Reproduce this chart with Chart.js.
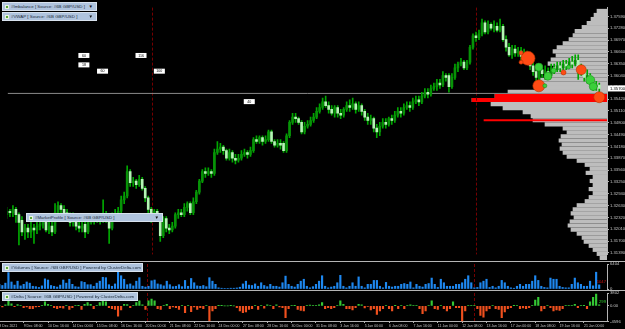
<!DOCTYPE html>
<html>
<head>
<meta charset="utf-8">
<title>#6B GBP/USD H4</title>
<script src="https://cdn.jsdelivr.net/npm/chart.js@4.4.1/dist/chart.umd.min.js"></script>
<style>
  html, body { margin: 0; padding: 0; background: #000; }
  #wrap { position: relative; width: 625px; height: 329px; overflow: hidden; background: #000; }
  canvas { position: absolute; left: 0; }
  .sep { position: absolute; left: 0; width: 625px; height: 1px; background: #b4b4b4; }
  .hdr { position: absolute; height: 9px; box-sizing: border-box; background: #b0c4de; border: 1px solid #d8e2ee;
         color: #1b2a3a; font: 4.4px "Liberation Sans", Arial, sans-serif; line-height: 7px; padding-left: 8px; white-space: nowrap; }
  .hdr .ico { position: absolute; left: 2px; top: 1.5px; width: 4px; height: 4px; background: #5aa83a; border: 0.5px solid #e8f5e0; box-sizing: border-box; }
  .hdr .arr { position: absolute; right: 3px; top: 0; font-size: 4.5px; color: #111; }
</style>
</head>
<body>
<div id="wrap">
  <canvas id="profile" width="607" height="262" style="top:0"></canvas>
  <canvas id="main" width="625" height="262" style="top:0"></canvas>
  <canvas id="volume" width="625" height="28" style="top:262px"></canvas>
  <canvas id="delta" width="625" height="38" style="top:291px"></canvas>
  <div class="sep" style="top:261px"></div>
  <div class="sep" style="top:290px"></div>
  <div class="hdr" style="left:2px;top:2px;width:95px"><span class="ico"></span>#Imbalance [ Source: #6B GBP/USD ]<span class="arr">▼</span></div>
  <div class="hdr" style="left:2px;top:12px;width:95px"><span class="ico"></span>#VWAP [ Source: #6B GBP/USD ]<span class="arr">▼</span></div>
  <div class="hdr" style="left:26px;top:213px;width:137px"><span class="ico"></span>#MarketProfile [ Source: #6B GBP/USD ]<span class="arr">▼</span></div>
  <div class="hdr" style="left:2px;top:263px;width:141px"><span class="ico"></span>#Volumes [ Source: #6B GBP/USD ] Powered by ClusterDelta.com</div>
  <div class="hdr" style="left:2px;top:292px;width:136px"><span class="ico"></span>#Delta [ Source: #6B GBP/USD ] Powered by ClusterDelta.com</div>
</div>
<script>
// H4 bars, 8 Dec 2021 .. 21 Jan 2022
const opens = [
  1.3239, 1.3248, 1.3244, 1.3253, 1.3239, 1.3224, 1.3194, 1.3204, 1.3194, 1.3204,
  1.3199, 1.3209, 1.3214, 1.3219, 1.3199, 1.3209, 1.3194, 1.3244, 1.3263, 1.3253,
  1.3244, 1.3234, 1.3219, 1.3234, 1.3209, 1.3204, 1.3214, 1.3194, 1.3219, 1.3229,
  1.3224, 1.3229, 1.3224, 1.3234, 1.3234, 1.3204, 1.3234, 1.3239, 1.3248, 1.3278,
  1.3288, 1.3352, 1.3323, 1.3327, 1.3318, 1.3332, 1.3308, 1.3283, 1.3253, 1.3229,
  1.3248, 1.3234, 1.3184, 1.3229, 1.3204, 1.3199, 1.3209, 1.3239, 1.3244, 1.3239,
  1.3258, 1.3268, 1.3244, 1.3273, 1.3298, 1.3327, 1.3352, 1.3347, 1.3352, 1.3347,
  1.3402, 1.3411, 1.3416, 1.3407, 1.3387, 1.3402, 1.3387, 1.3382, 1.3387, 1.3397,
  1.3402, 1.3397, 1.3407, 1.3436, 1.3431, 1.3441, 1.3431, 1.3436, 1.3456, 1.3431,
  1.3421, 1.3426, 1.3426, 1.3407, 1.3446, 1.3481, 1.3495, 1.3491, 1.3481, 1.3456,
  1.3471, 1.3476, 1.3486, 1.3495, 1.3510, 1.3520, 1.3535, 1.3525, 1.3515, 1.3505,
  1.3520, 1.3505, 1.3500, 1.3515, 1.3525, 1.3520, 1.3530, 1.3515, 1.3525, 1.3510,
  1.3495, 1.3486, 1.3491, 1.3466, 1.3456, 1.3471, 1.3481, 1.3476, 1.3491, 1.3486,
  1.3500, 1.3510, 1.3505, 1.3520, 1.3525, 1.3520, 1.3535, 1.3540, 1.3535, 1.3550,
  1.3560, 1.3555, 1.3570, 1.3575, 1.3584, 1.3579, 1.3604, 1.3604, 1.3575, 1.3599,
  1.3624, 1.3634, 1.3639, 1.3624, 1.3639, 1.3678, 1.3708, 1.3703, 1.3713, 1.3742,
  1.3718, 1.3738, 1.3728, 1.3733, 1.3723, 1.3733, 1.3698, 1.3678, 1.3658, 1.3673,
  1.3663, 1.3668, 1.3654, 1.3663, 1.3644, 1.3629, 1.3614, 1.3594, 1.3619, 1.3609,
  1.3614, 1.3604, 1.3624, 1.3619, 1.3629, 1.3624, 1.3634, 1.3629, 1.3639, 1.3634,
  1.3644, 1.3624, 1.3614, 1.3599, 1.3604, 1.3584, 1.3575, 1.3579
];
const highs = [
  1.3258, 1.3253, 1.3263, 1.3258, 1.3244, 1.3234, 1.3214, 1.3214, 1.3219, 1.3214,
  1.3219, 1.3224, 1.3229, 1.3229, 1.3219, 1.3219, 1.3268, 1.3273, 1.3268, 1.3263,
  1.3253, 1.3244, 1.3244, 1.3239, 1.3219, 1.3219, 1.3224, 1.3229, 1.3234, 1.3234,
  1.3239, 1.3239, 1.3278, 1.3248, 1.3239, 1.3244, 1.3253, 1.3258, 1.3288, 1.3298,
  1.3367, 1.3357, 1.3337, 1.3332, 1.3342, 1.3337, 1.3313, 1.3288, 1.3258, 1.3253,
  1.3253, 1.3239, 1.3234, 1.3234, 1.3214, 1.3219, 1.3244, 1.3253, 1.3253, 1.3268,
  1.3273, 1.3273, 1.3283, 1.3303, 1.3332, 1.3357, 1.3362, 1.3362, 1.3357, 1.3411,
  1.3431, 1.3426, 1.3421, 1.3411, 1.3411, 1.3407, 1.3397, 1.3397, 1.3407, 1.3411,
  1.3407, 1.3416, 1.3441, 1.3446, 1.3446, 1.3446, 1.3446, 1.3461, 1.3461, 1.3436,
  1.3436, 1.3436, 1.3431, 1.3451, 1.3486, 1.3505, 1.3505, 1.3495, 1.3486, 1.3481,
  1.3486, 1.3495, 1.3505, 1.3520, 1.3530, 1.3545, 1.3550, 1.3535, 1.3525, 1.3525,
  1.3525, 1.3515, 1.3520, 1.3535, 1.3540, 1.3545, 1.3535, 1.3535, 1.3530, 1.3515,
  1.3505, 1.3500, 1.3495, 1.3476, 1.3481, 1.3491, 1.3491, 1.3495, 1.3500, 1.3510,
  1.3520, 1.3520, 1.3530, 1.3535, 1.3535, 1.3545, 1.3550, 1.3550, 1.3560, 1.3570,
  1.3570, 1.3579, 1.3584, 1.3594, 1.3594, 1.3614, 1.3609, 1.3609, 1.3609, 1.3634,
  1.3639, 1.3649, 1.3644, 1.3644, 1.3683, 1.3713, 1.3718, 1.3723, 1.3752, 1.3747,
  1.3747, 1.3742, 1.3747, 1.3742, 1.3752, 1.3738, 1.3708, 1.3688, 1.3683, 1.3683,
  1.3678, 1.3678, 1.3673, 1.3668, 1.3654, 1.3639, 1.3624, 1.3629, 1.3629, 1.3629,
  1.3624, 1.3634, 1.3634, 1.3639, 1.3639, 1.3644, 1.3644, 1.3649, 1.3654, 1.3658,
  1.3658, 1.3634, 1.3624, 1.3619, 1.3609, 1.3594, 1.3589, 1.3584
];
const lows = [
  1.3229, 1.3234, 1.3234, 1.3219, 1.3160, 1.3184, 1.3174, 1.3179, 1.3179, 1.3164,
  1.3189, 1.3199, 1.3204, 1.3194, 1.3189, 1.3184, 1.3189, 1.3239, 1.3244, 1.3234,
  1.3224, 1.3209, 1.3209, 1.3199, 1.3194, 1.3194, 1.3179, 1.3189, 1.3214, 1.3214,
  1.3219, 1.3214, 1.3219, 1.3219, 1.3164, 1.3199, 1.3224, 1.3229, 1.3244, 1.3268,
  1.3283, 1.3313, 1.3313, 1.3308, 1.3313, 1.3303, 1.3273, 1.3244, 1.3219, 1.3224,
  1.3224, 1.3169, 1.3179, 1.3194, 1.3189, 1.3194, 1.3204, 1.3229, 1.3234, 1.3234,
  1.3248, 1.3239, 1.3239, 1.3268, 1.3293, 1.3323, 1.3337, 1.3342, 1.3337, 1.3342,
  1.3397, 1.3402, 1.3397, 1.3382, 1.3382, 1.3377, 1.3372, 1.3377, 1.3382, 1.3392,
  1.3387, 1.3392, 1.3402, 1.3426, 1.3426, 1.3421, 1.3426, 1.3431, 1.3426, 1.3416,
  1.3416, 1.3411, 1.3402, 1.3402, 1.3441, 1.3476, 1.3481, 1.3476, 1.3451, 1.3451,
  1.3466, 1.3471, 1.3481, 1.3491, 1.3505, 1.3515, 1.3520, 1.3505, 1.3500, 1.3495,
  1.3495, 1.3491, 1.3495, 1.3510, 1.3510, 1.3515, 1.3505, 1.3510, 1.3500, 1.3486,
  1.3476, 1.3476, 1.3456, 1.3441, 1.3446, 1.3466, 1.3466, 1.3471, 1.3476, 1.3481,
  1.3495, 1.3495, 1.3500, 1.3515, 1.3510, 1.3515, 1.3530, 1.3525, 1.3530, 1.3545,
  1.3545, 1.3550, 1.3565, 1.3565, 1.3570, 1.3575, 1.3589, 1.3560, 1.3570, 1.3594,
  1.3614, 1.3629, 1.3619, 1.3619, 1.3634, 1.3673, 1.3693, 1.3698, 1.3708, 1.3713,
  1.3713, 1.3723, 1.3718, 1.3718, 1.3718, 1.3693, 1.3668, 1.3654, 1.3649, 1.3654,
  1.3654, 1.3644, 1.3644, 1.3634, 1.3619, 1.3604, 1.3589, 1.3589, 1.3599, 1.3594,
  1.3594, 1.3599, 1.3609, 1.3614, 1.3614, 1.3619, 1.3619, 1.3624, 1.3624, 1.3629,
  1.3594, 1.3604, 1.3589, 1.3584, 1.3579, 1.3565, 1.3565, 1.3555
];
const closes = [
  1.3248, 1.3244, 1.3253, 1.3239, 1.3219, 1.3194, 1.3204, 1.3194, 1.3204, 1.3199,
  1.3209, 1.3214, 1.3219, 1.3199, 1.3209, 1.3194, 1.3244, 1.3263, 1.3253, 1.3244,
  1.3234, 1.3219, 1.3234, 1.3209, 1.3204, 1.3209, 1.3194, 1.3219, 1.3229, 1.3224,
  1.3229, 1.3224, 1.3234, 1.3229, 1.3204, 1.3234, 1.3239, 1.3248, 1.3278, 1.3288,
  1.3352, 1.3323, 1.3327, 1.3318, 1.3332, 1.3308, 1.3283, 1.3253, 1.3229, 1.3248,
  1.3234, 1.3184, 1.3229, 1.3204, 1.3199, 1.3209, 1.3239, 1.3244, 1.3239, 1.3258,
  1.3268, 1.3244, 1.3273, 1.3298, 1.3327, 1.3352, 1.3347, 1.3352, 1.3347, 1.3402,
  1.3411, 1.3416, 1.3407, 1.3387, 1.3402, 1.3387, 1.3382, 1.3387, 1.3397, 1.3402,
  1.3397, 1.3407, 1.3436, 1.3431, 1.3441, 1.3431, 1.3436, 1.3456, 1.3431, 1.3421,
  1.3426, 1.3421, 1.3407, 1.3446, 1.3481, 1.3495, 1.3491, 1.3481, 1.3456, 1.3471,
  1.3476, 1.3486, 1.3495, 1.3510, 1.3520, 1.3535, 1.3525, 1.3515, 1.3505, 1.3520,
  1.3505, 1.3500, 1.3515, 1.3525, 1.3520, 1.3530, 1.3515, 1.3525, 1.3510, 1.3495,
  1.3486, 1.3491, 1.3466, 1.3456, 1.3471, 1.3481, 1.3476, 1.3491, 1.3486, 1.3500,
  1.3510, 1.3505, 1.3520, 1.3525, 1.3520, 1.3535, 1.3540, 1.3535, 1.3550, 1.3560,
  1.3555, 1.3570, 1.3575, 1.3584, 1.3579, 1.3604, 1.3599, 1.3575, 1.3599, 1.3624,
  1.3634, 1.3639, 1.3624, 1.3639, 1.3678, 1.3708, 1.3703, 1.3713, 1.3742, 1.3718,
  1.3738, 1.3728, 1.3733, 1.3723, 1.3733, 1.3698, 1.3678, 1.3658, 1.3673, 1.3663,
  1.3668, 1.3654, 1.3663, 1.3644, 1.3629, 1.3614, 1.3599, 1.3619, 1.3609, 1.3614,
  1.3604, 1.3624, 1.3619, 1.3629, 1.3624, 1.3634, 1.3629, 1.3639, 1.3634, 1.3644,
  1.3624, 1.3614, 1.3599, 1.3604, 1.3584, 1.3575, 1.3579, 1.3570
];

// #Volumes per bar
const volumes = [
  1200, 900, 1500, 4200, 1800, 1000, 2000, 800, 1200, 1800,
  1500, 700, 600, 400, 800, 2600, 2300, 900, 700, 500,
  1000, 2300, 1500, 2500, 1200, 600, 500, 1900, 1700, 1100,
  1100, 700, 1500, 2000, 3000, 2900, 1100, 700, 1300, 5000,
  3400, 2500, 1100, 1300, 800, 2000, 2900, 700, 500, 700,
  2100, 2300, 1300, 1100, 800, 2000, 1100, 600, 700, 1100,
  600, 2200, 700, 2700, 1600, 800, 700, 900, 600, 2900,
  2000, 1200, 300, 200, 150, 150, 200, 200, 270, 450,
  1300, 2000, 1000, 900, 1300, 700, 1600, 900, 600, 1200,
  700, 700, 500, 1600, 3300, 1200, 700, 500, 1200, 2000,
  2500, 700, 300, 600, 1200, 2000, 3400, 700, 300, 500,
  700, 1600, 3500, 700, 300, 700, 1600, 700, 3100, 700,
  300, 1200, 1200, 2200, 2200, 700, 300, 1700, 700, 500,
  700, 700, 1200, 1400, 1200, 1800, 300, 1200, 700, 500,
  1200, 1400, 2800, 1200, 400, 2500, 1600, 700, 700, 700,
  1200, 1200, 1600, 2500, 3400, 1600, 300, 400, 1600, 2000,
  2500, 400, 700, 300, 700, 2200, 1600, 700, 300, 200,
  700, 1200, 700, 1200, 1200, 2000, 3400, 2200, 700, 400,
  300, 2800, 2500, 2500, 700, 400, 300, 300, 1200, 2800,
  1600, 1200, 700, 700, 2000, 800, 4300, 1047
];

// #Delta per bar
const deltas = [
  200, -300, 300, 1500, 600, -200, 400, 200, -500, -300,
  -800, -800, -300, -200, 150, 1200, 500, 200, -500, -800,
  -500, -700, 200, -1000, -500, 150, 100, -1000, 500, 1000,
  500, -800, 200, 1000, 1500, 1200, -500, -800, -1000, -3000,
  -1200, 500, 400, -500, 200, 1000, 1500, 300, -1000, 1500,
  2000, 1500, -800, -1000, 200, 500, -800, -300, -500, -1000,
  200, -2000, 150, -1700, -300, -1000, -500, -800, 200, -4400,
  -1500, -800, 100, 50, 0, 0, 50, 0, -500, -1500,
  -2000, -1800, -1000, -800, 200, -1000, 200, -700, 300, 200,
  -800, 300, -300, -500, -3500, -800, 200, 100, -1000, -1300,
  -1500, 200, 250, 200, 200, 300, 1000, -800, -500, -800,
  -500, 200, 1500, 500, -800, -800, -1200, -500, 500, 300,
  -600, -100, -1200, -800, -2500, -1500, -800, 200, -800, -1500,
  100, -800, 200, -800, 200, 300, 200, 200, -800, -2300,
  -1500, 150, 1500, -800, -1000, 200, -800, -1500, -800, 1200,
  -500, -500, -4500, -1500, 200, 200, 150, -800, -2800, -3300,
  -1500, -800, 200, -800, -1000, -3500, -1800, -800, -500, 100,
  200, -800, -600, -800, -500, 200, 1700, 2500, -1500, -800,
  150, -500, -1500, -1200, -1300, -800, 200, 200, 200, 500,
  -500, 200, 100, -800, 1200, 2500, 3500, 299
];

// #MarketProfile rows (price level, volume)
const profilePrices = [
  1.3755, 1.3745, 1.3735, 1.3725, 1.3715, 1.3705, 1.3695, 1.3685, 1.3675, 1.3665,
  1.3655, 1.3645, 1.3635, 1.3625, 1.3615, 1.3605, 1.3595, 1.3585, 1.3575, 1.3565,
  1.3555, 1.3545, 1.3535, 1.3525, 1.3515, 1.3505, 1.3495, 1.3485, 1.3475, 1.3465,
  1.3455, 1.3445, 1.3435, 1.3425, 1.3415, 1.3405, 1.3395, 1.3385, 1.3375, 1.3365,
  1.3355, 1.3345, 1.3335, 1.3325, 1.3315, 1.3305, 1.3295, 1.3285, 1.3275, 1.3265,
  1.3255, 1.3245, 1.3235, 1.3225, 1.3215, 1.3205, 1.3195, 1.3185, 1.3175, 1.3165,
  1.3155, 1.3145
];
const profileVolumes = [
  10, 13, 16, 20, 25, 32, 34, 38, 44, 50,
  54, 51, 56, 59, 53, 56, 62, 67, 65, 70,
  99, 112, 135, 116, 104, 84, 76, 74, 62, 44,
  40, 46, 48, 45, 47, 44, 40, 30, 22, 17,
  21, 14, 17, 14, 18, 14, 18, 22, 30, 34,
  36, 33, 37, 39, 36, 30, 25, 23, 18, 14,
  10, 7
];
const pocPrices = [1.3545, 1.3535];
const pocVolumes = [112, 135];
const prevPocPrices = [1.3485];
const prevPocVolumes = [123];

// cluster bubbles (#Imbalance)
const bubbleBars = [173.3, 171, 171, 176.9, 179.9, 176.9, 178.9, 181.8, 185.1, 186.8, 191, 194, 195, 197];
const bubblePrices = [1.3649, 1.3663, 1.3639, 1.3626, 1.3602, 1.3577, 1.3577, 1.3617, 1.3612, 1.3626, 1.3619, 1.3592, 1.3575, 1.3547];
const bubbleSizes = [7, 2, 2, 4, 4, 6, 2, 2.5, 2.5, 2, 5, 4.5, 4, 5.5];
const bubbleSides = ['sell', 'sell', 'sell', 'buy', 'buy', 'sell', 'buy', 'buy', 'sell', 'buy', 'sell', 'buy', 'buy', 'sell'];

// count labels
const countBars = [25.6, 44.6, 25.6, 31.8, 50.7, 80.6];
const countPrices = [1.36565, 1.36565, 1.36318, 1.36153, 1.36153, 1.35355];
const countTexts = ['60', '116', '18', '60', '100', '40'];

const levelPrice = 1.3557;
const sessionBars = [48.4, 156];

// axes
const priceTicks = [1.37590, 1.37280, 1.36970, 1.36660, 1.36350, 1.36040, 1.35730, 1.35420, 1.35110, 1.34800,
  1.34490, 1.34180, 1.33870, 1.33560, 1.33250, 1.32940, 1.32630, 1.32320, 1.32010, 1.31700, 1.31390];
const volumeTicks = [0, 6404];
const deltaTicks = [-4596, 0, 3802];
const timeTickBars = [0, 8, 16, 24, 32, 40, 48, 56, 64, 72, 80, 88, 96, 104, 112, 120, 128, 136, 144, 152, 160, 168, 176, 184, 192];
const timeLabels = ['8 Dec 2021', '9 Dec 08:00', '10 Dec 16:00', '14 Dec 00:00', '15 Dec 08:00', '16 Dec 16:00',
  '20 Dec 00:00', '21 Dec 08:00', '22 Dec 16:00', '24 Dec 00:00', '27 Dec 08:00', '28 Dec 16:00', '30 Dec 00:00',
  '31 Dec 08:00', '3 Jan 16:00', '5 Jan 00:00', '6 Jan 08:00', '7 Jan 16:00', '11 Jan 00:00', '12 Jan 08:00',
  '13 Jan 16:00', '17 Jan 00:00', '18 Jan 08:00', '19 Jan 16:00', '21 Jan 00:00'];

const X_MIN = 0.23, X_MAX = 199.57;
const Y_MAX = 1.3782, Y_MIN = 1.31349;
const AXIS_W = 18;
const FONT = '"Liberation Sans", Arial, sans-serif';
const AXIS_COLOR = '#b4b4b4';
const TEXT_COLOR = '#c4c4c4';

Chart.defaults.font.family = FONT;
Chart.defaults.animation = false;

function fixRightAxis(s) {
  s.width = AXIS_W;
  s.paddingTop = 0;
  s.paddingBottom = 0;
}

const sessionLines = {
  id: 'sessionLines',
  beforeDatasetsDraw(chart) {
    const {ctx, chartArea, scales} = chart;
    ctx.save();
    ctx.strokeStyle = '#760000';
    ctx.lineWidth = 1;
    ctx.setLineDash([3, 2]);
    sessionBars.forEach(b => {
      const x = Math.round(scales.x.getPixelForValue(b)) + 0.5;
      ctx.beginPath();
      ctx.moveTo(x, chartArea.top);
      ctx.lineTo(x, chartArea.bottom);
      ctx.stroke();
    });
    ctx.restore();
  }
};

const priceBox = {
  id: 'priceBox',
  afterDraw(chart) {
    const {ctx, chartArea, scales} = chart;
    const last = closes[closes.length - 1];
    const y = scales.y.getPixelForValue(last);
    ctx.save();
    ctx.fillStyle = '#ffffff';
    ctx.fillRect(chartArea.right + 1, y - 3, 17, 6);
    ctx.fillStyle = '#000000';
    ctx.font = '4.2px ' + FONT;
    ctx.textBaseline = 'middle';
    ctx.textAlign = 'left';
    ctx.fillText(last.toFixed(5), chartArea.right + 3, y + 0.3);
    ctx.restore();
  }
};

const countLabels = {
  id: 'countLabels',
  afterDatasetsDraw(chart) {
    const {ctx, scales} = chart;
    ctx.save();
    ctx.font = '3.6px ' + FONT;
    ctx.textAlign = 'center';
    ctx.textBaseline = 'middle';
    countTexts.forEach((t, k) => {
      const x = scales.x.getPixelForValue(countBars[k]);
      const y = scales.y.getPixelForValue(countPrices[k]);
      ctx.fillStyle = '#ffffff';
      ctx.fillRect(x - 5.5, y - 2.5, 11, 5);
      ctx.fillStyle = '#000000';
      ctx.fillText(t, x, y + 0.2);
    });
    ctx.restore();
  }
};

function lastValueLabel(color, fmt) {
  return {
    id: 'lastValue',
    afterDraw(chart) {
      const {ctx, chartArea, scales} = chart;
      const pts = chart.data.datasets[0].data;
      const v = pts[pts.length - 1].y;
      const y = Math.min(scales.y.getPixelForValue(v), scales.y.getPixelForValue(0));
      ctx.save();
      ctx.fillStyle = color;
      ctx.font = '4.2px ' + FONT;
      ctx.textAlign = 'right';
      ctx.textBaseline = 'bottom';
      ctx.fillText(fmt(v), chartArea.right - 1, y - 1);
      ctx.restore();
    }
  };
}

function rightAxis(min, max, ticks, fmt) {
  return {
    position: 'right', min: min, max: max,
    afterBuildTicks: s => { s.ticks = ticks.map(v => ({value: v})); },
    afterFit: fixRightAxis,
    ticks: { color: TEXT_COLOR, font: {size: 4.2}, padding: 1, callback: fmt },
    grid: { display: true, drawOnChartArea: false, drawTicks: true, tickLength: 2, color: AXIS_COLOR },
    border: { display: true, color: AXIS_COLOR, width: 1 }
  };
}

// ---- market profile (behind price)
new Chart(document.getElementById('profile'), {
  type: 'bar',
  data: {
    datasets: [
      { data: profilePrices.map((p, i) => ({x: profileVolumes[i], y: p})), backgroundColor: '#bdbdbd', barThickness: 3.5, grouped: false, order: 3 },
      { data: pocPrices.map((p, i) => ({x: pocVolumes[i], y: p})), backgroundColor: '#ff0000', barThickness: 3.5, grouped: false, order: 2 },
      { data: prevPocPrices.map((p, i) => ({x: prevPocVolumes[i], y: p})), backgroundColor: '#ff0000', barThickness: 1.2, grouped: false, order: 1 }
    ]
  },
  options: {
    indexAxis: 'y', responsive: false,
    layout: { padding: 0 },
    plugins: { legend: {display: false}, tooltip: {enabled: false} },
    scales: {
      x: { type: 'linear', min: 0, max: 607, reverse: true, display: false },
      y: { type: 'linear', min: Y_MIN, max: Y_MAX, display: false, offset: false }
    }
  }
});

// ---- price chart
const wickData = highs.map((h, i) => ({x: i, y: [lows[i], h]}));
const bodyData = opens.map((o, i) => ({x: i, y: [Math.min(o, closes[i]), Math.max(o, closes[i])]}));
const bubbleData = bubbleBars.map((b, i) => ({x: b, y: bubblePrices[i], r: bubbleSizes[i]}));

new Chart(document.getElementById('main'), {
  type: 'bar',
  data: {
    datasets: [
      { type: 'line', data: [{x: X_MIN, y: levelPrice}, {x: X_MAX, y: levelPrice}], borderColor: '#8a8a8a', borderWidth: 1, pointRadius: 0, order: 5 },
      { data: wickData, backgroundColor: '#00a800', barThickness: 1, grouped: false, order: 4 },
      { data: bodyData, barThickness: 2, grouped: false, order: 3,
        backgroundColor: c => closes[c.dataIndex] >= opens[c.dataIndex] ? '#079307' : '#b4f5b4' },
      { type: 'bubble', data: bubbleData, order: 1, borderWidth: 0.6,
        backgroundColor: c => bubbleSides[c.dataIndex] === 'buy' ? '#3ad03a' : '#ff4b14',
        borderColor: c => bubbleSides[c.dataIndex] === 'buy' ? '#1c8c1c' : '#b83000' }
    ]
  },
  options: {
    responsive: false,
    layout: { padding: 0 },
    plugins: { legend: {display: false}, tooltip: {enabled: false} },
    scales: {
      x: { type: 'linear', min: X_MIN, max: X_MAX, display: false, offset: false, grid: {offset: false} },
      y: rightAxis(Y_MIN, Y_MAX, priceTicks, v => v.toFixed(5))
    }
  },
  plugins: [sessionLines, countLabels, priceBox]
});

// ---- volumes
new Chart(document.getElementById('volume'), {
  type: 'bar',
  data: {
    datasets: [{ data: volumes.map((v, i) => ({x: i, y: v})), backgroundColor: '#1e88f0', barThickness: 1.5 }]
  },
  options: {
    responsive: false,
    layout: { padding: {top: 2, bottom: 1} },
    plugins: { legend: {display: false}, tooltip: {enabled: false} },
    scales: {
      x: { type: 'linear', min: X_MIN, max: X_MAX, display: false, offset: false, grid: {offset: false} },
      y: rightAxis(0, 6404, volumeTicks, v => String(v))
    }
  },
  plugins: [sessionLines, lastValueLabel('#d01010', v => String(v))]
});

// ---- delta + time axis
new Chart(document.getElementById('delta'), {
  type: 'bar',
  data: {
    datasets: [{ data: deltas.map((v, i) => ({x: i, y: v})), barThickness: 1.5,
      backgroundColor: c => deltas[c.dataIndex] >= 0 ? '#34c834' : '#f0501e' }]
  },
  options: {
    responsive: false,
    layout: { padding: {top: 2} },
    plugins: { legend: {display: false}, tooltip: {enabled: false} },
    scales: {
      x: { type: 'linear', min: X_MIN, max: X_MAX, offset: false,
        afterBuildTicks: s => { s.ticks = timeTickBars.map(v => ({value: v})); },
        afterFit: s => { s.height = 7.5; s.paddingLeft = 0; s.paddingRight = 0; },
        ticks: { color: TEXT_COLOR, font: {size: 3.5}, padding: 0.5, align: 'start', maxRotation: 0, autoSkip: false,
          callback: (v, idx) => timeLabels[idx] },
        grid: { display: true, drawOnChartArea: false, drawTicks: true, tickLength: 1.5, color: AXIS_COLOR, offset: false },
        border: { display: true, color: AXIS_COLOR, width: 1 }
      },
      y: rightAxis(-4596, 3802, deltaTicks, v => v === 0 ? '0.00' : String(v))
    }
  },
  plugins: [sessionLines, lastValueLabel('#30d030', v => String(v))]
});
</script>
</body>
</html>
